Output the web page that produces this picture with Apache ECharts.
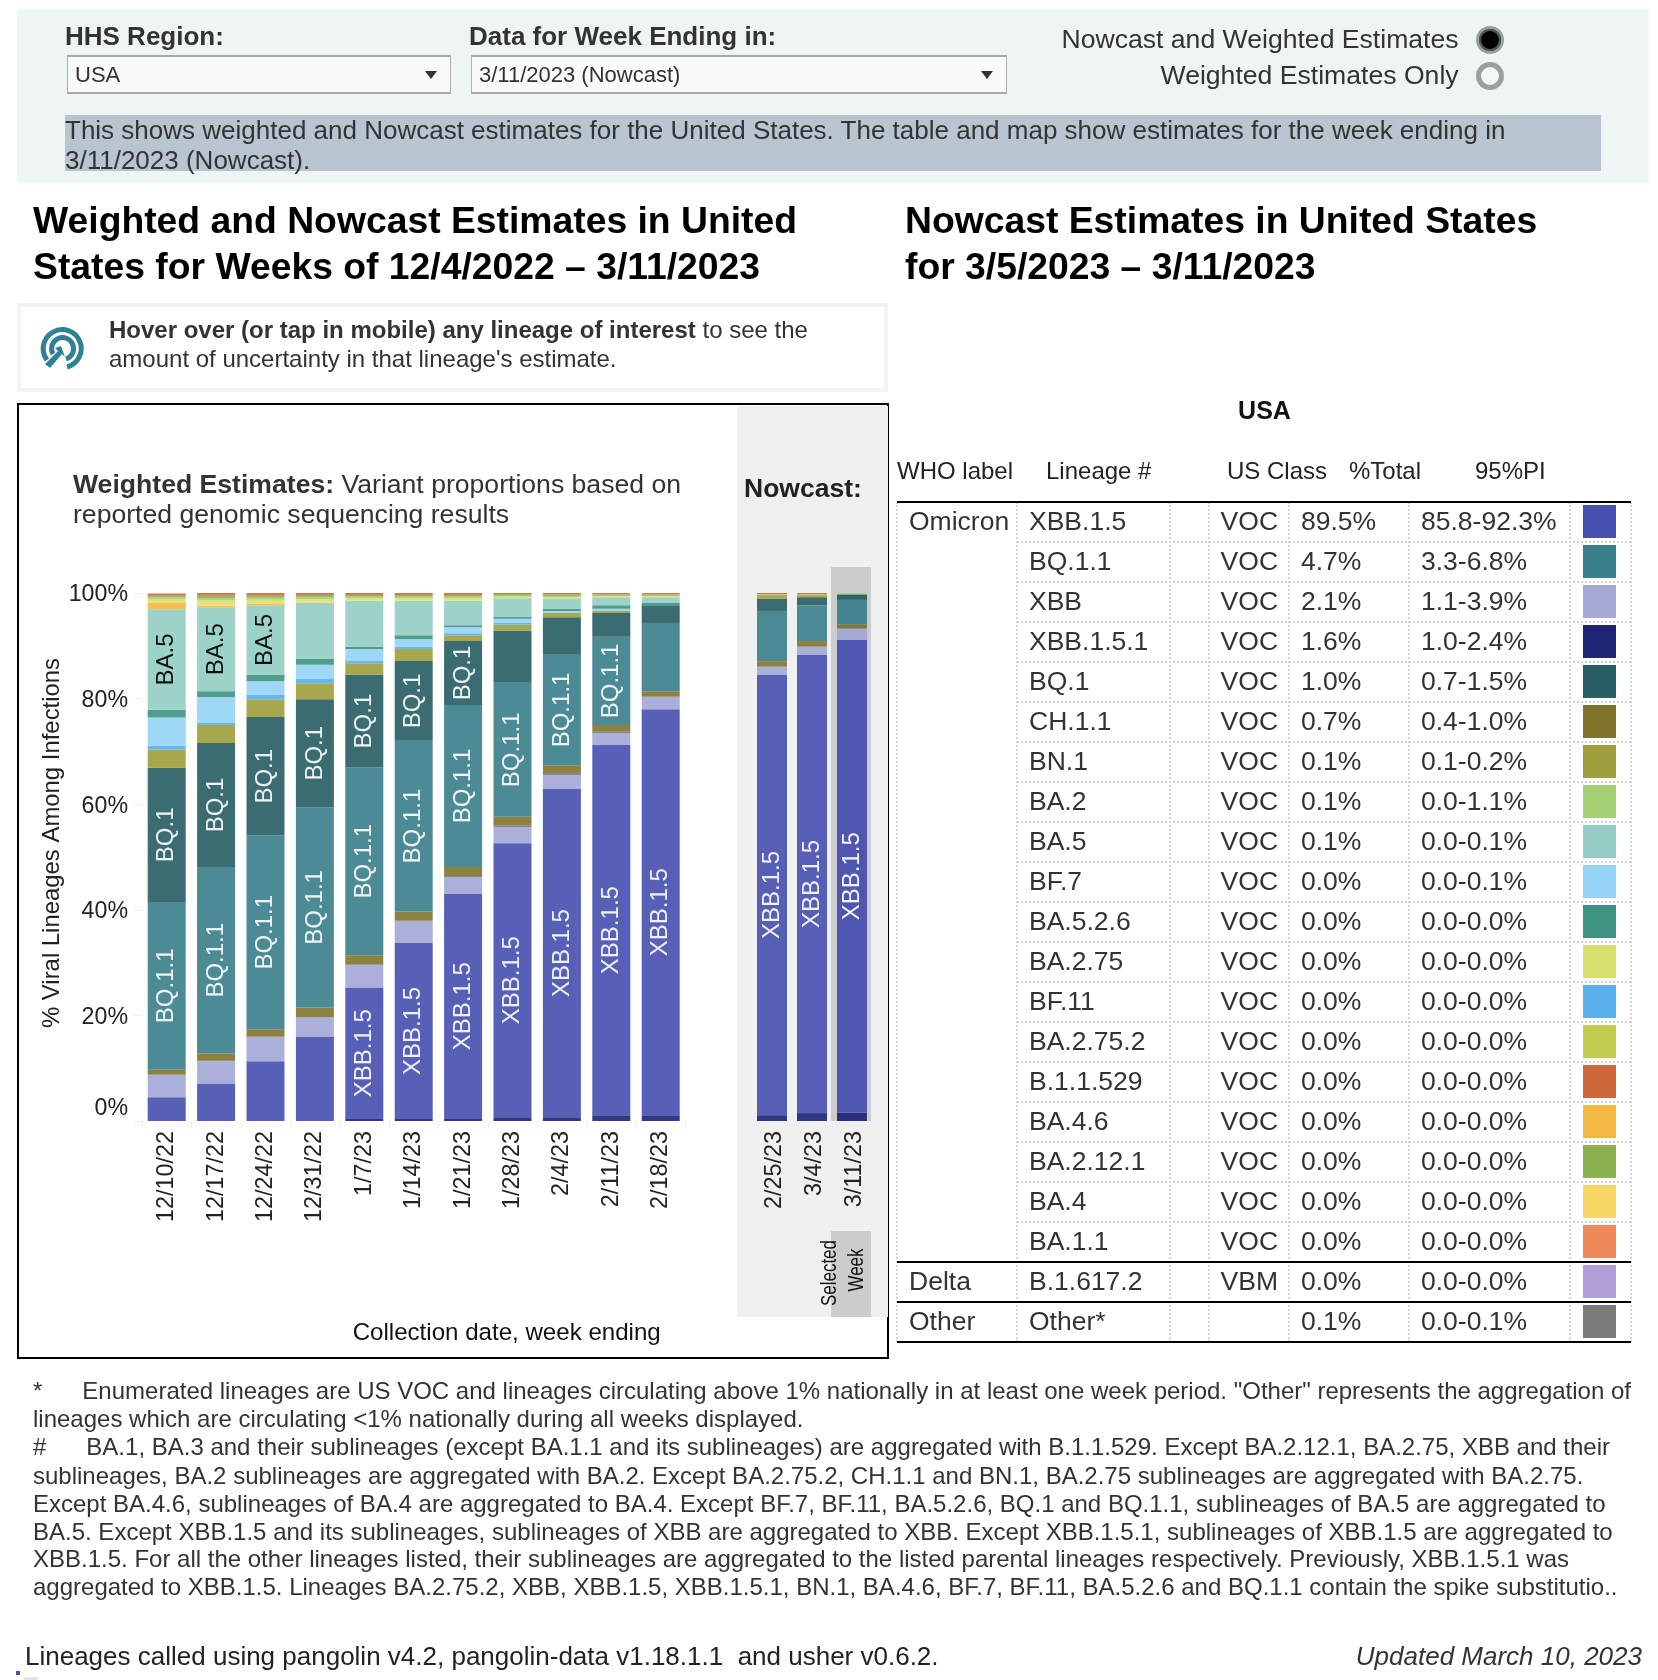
<!DOCTYPE html>
<html><head><meta charset="utf-8">
<script src="https://cdn.jsdelivr.net/npm/echarts@6/dist/echarts.min.js"></script>
<style>
html,body{margin:0;padding:0;background:#fff;font-family:"Liberation Sans",Arial,sans-serif;overflow:hidden}
#page{position:relative;width:1658px;height:1680px;overflow:hidden}
.r{position:absolute;box-sizing:border-box}
.t{position:absolute;white-space:pre;color:#333}
#chart{position:absolute;left:0;top:0;width:1658px;height:1680px}
</style></head><body><div id="page"><div id="under"></div><div id="chart"></div><div id="over"></div></div>
<script>
// ---------- chart data (percent of viral lineages, week by week) ----------
const weightedWeeks = ['12/10/22','12/17/22','12/24/22','12/31/22','1/7/23','1/14/23','1/21/23','1/28/23','2/4/23','2/11/23','2/18/23'];
const nowcastWeeks = ['2/25/23','3/4/23','3/11/23'];
const XBB151 = [0,0,0,0,.4,.4,.4,.7,.7,1.1,1.1,1.1,1.5,1.6];
const XBB15 = [4.5,7.1,11.3,15.9,24.9,33.3,42.7,51.9,62.2,70.1,76.9,83.4,86.8,89.5];
const XBB = [4.2,4.2,4.6,3.7,4.2,4.1,3.1,3.1,2.6,2.3,2.3,1.5,1.5,2.1];
const OTHER = [.1,.1,.1,.1,.2,.2,.2,.3,.4,.2,.1,.1,.1,.1];
const CH11 = [.9,1.4,1.4,1.8,1.7,1.7,1.7,1.6,1.5,1.3,1.0,1.0,1.0,.7];
const BQ11 = [31.8,35.3,36.7,37.9,35.6,32.3,30.7,25.4,20.9,16.7,12.9,9.5,6.8,4.7];
const BQ1 = [25.4,23.5,22.4,20.5,17.5,15.1,12.1,9.9,7.1,4.5,3.4,2.3,1.5,1.0];
const BN1 = [3.4,3.4,3.4,3.0,2.2,2.3,1.1,1.1,.8,.4,0,.7,.4,.1];
const BF11 = [.8,.4,.8,.8,.4,.4,.4,.3,.1,0,0,0,0,0];
const BF7 = [5.3,4.9,2.6,2.7,2.3,1.5,1.1,.8,.3,.4,0,0,0,0];
const BA526 = [1.5,1.1,1.2,1.1,.4,.7,.4,.4,.4,.7,.4,0,0,0];
const BA5 = [19,15.9,13.2,10.6,8.7,6.5,4.6,3.5,1.9,1.5,1.1,0,0,.1];
const BA46 = [1.3,.3,.2,.1,0,0,0,0,0,0,0,0,0,0];
const BA4 = [.3,.5,.4,.2,.1,.1,.1,0,0,0,0,0,0,0];
const BA275 = [.3,.5,.4,.4,.4,.4,.4,.3,.3,.2,.2,.1,.1,0];
const BA2 = [.4,.4,.4,.4,.3,.3,.3,.2,.2,.1,.1,0,0,.1];
const BA2121 = [.3,.5,.4,.4,.3,.3,.3,.3,.3,.2,.2,.1,.1,0];
const B11529 = [.4,.5,.5,.4,.4,.4,.4,.3,.3,.3,.3,.2,.2,0];
const yTicks = ['0%','20%','40%','60%','80%','100%'];

// ---------- table data ----------
const whoLabels = {0:'Omicron',19:'Delta',20:'Other'};
const tableLineages = ['XBB.1.5','BQ.1.1','XBB','XBB.1.5.1','BQ.1','CH.1.1','BN.1','BA.2','BA.5','BF.7','BA.5.2.6','BA.2.75','BF.11','BA.2.75.2','B.1.1.529','BA.4.6','BA.2.12.1','BA.4','BA.1.1','B.1.617.2','Other*'];
const tableClass = ['VOC','VOC','VOC','VOC','VOC','VOC','VOC','VOC','VOC','VOC','VOC','VOC','VOC','VOC','VOC','VOC','VOC','VOC','VOC','VBM',''];
const tableTotal = ['89.5%','4.7%','2.1%','1.6%','1.0%','0.7%','0.1%','0.1%','0.1%','0.0%','0.0%','0.0%','0.0%','0.0%','0.0%','0.0%','0.0%','0.0%','0.0%','0.0%','0.1%'];
const tablePI = ['85.8-92.3%','3.3-6.8%','1.1-3.9%','1.0-2.4%','0.7-1.5%','0.4-1.0%','0.1-0.2%','0.0-1.1%','0.0-0.1%','0.0-0.1%','0.0-0.0%','0.0-0.0%','0.0-0.0%','0.0-0.0%','0.0-0.0%','0.0-0.0%','0.0-0.0%','0.0-0.0%','0.0-0.0%','0.0-0.0%','0.0-0.1%'];
const tableColors = ['#474fb0','#3a7f8c','#a3a8d6','#1f2575','#275d63','#82742d','#9e9e3d','#a5cf73','#93cdc4','#96d4f6','#3f9383','#d7e06c','#5ab0ee','#c4cc50','#cf693c','#f4b942','#8ab04f','#f8d765','#f08a5a','#b09fd6','#7a7a7a'];

// ---------- stacking, bottom to top ----------
const stackNames = ['XBB.1.5.1','XBB.1.5','XBB','Other*','CH.1.1','BQ.1.1','BQ.1','BN.1','BF.11','BF.7','BA.5.2.6','BA.5','BA.4.6','BA.4','BA.2.75','BA.2','BA.2.12.1','B.1.1.529'];
const stackValues = [XBB151,XBB15,XBB,OTHER,CH11,BQ11,BQ1,BN1,BF11,BF7,BA526,BA5,BA46,BA4,BA275,BA2,BA2121,B11529];
const labelled = {'XBB.1.5':[4,5,6,7,8,9,10,11,12,13],'BQ.1.1':[0,1,2,3,4,5,6,7,8,9],'BQ.1':[0,1,2,3,4,5,6],'BA.5':[0,1,2]};

const FONT = '"Liberation Sans",Arial,sans-serif';
const colorOf = n => tableColors[tableLineages.indexOf(n)];
const N = weightedWeeks.length;
const series = [];
stackNames.forEach((name,s)=>{
  const mk = (from,to,axis)=>({
    type:'bar',name,stack:'s'+axis,xAxisIndex:axis,yAxisIndex:axis,
    barWidth:axis===0?38:30,silent:true,animation:false,
    itemStyle:{color:colorOf(name),opacity:.91},
    data:stackValues[s].slice(from,to).map((v,i)=>{
      const idx=from+i, d={value:v};
      if(idx===13) d.itemStyle={opacity:.94};
      if((labelled[name]||[]).includes(idx)) d.label={show:true,position:'inside',rotate:90,formatter:'{a}',fontFamily:FONT,fontSize:24,color:name==='BA.5'?'#000':'#fff'};
      return d;
    })
  });
  series.push(mk(0,N,0),mk(N,N+3,1));
});
const xAxisBase = {type:'category',axisLine:{show:false},axisTick:{show:true,length:8,lineStyle:{color:'#eeeeee',width:1}},
  axisLabel:{rotate:90,margin:10,fontFamily:FONT,fontSize:23.4,color:'#222',interval:0}};
const chart = echarts.init(document.getElementById('chart'),null,{renderer:'canvas',width:1658,height:1680});
chart.setOption({
  backgroundColor:'transparent',animation:false,
  grid:[{left:142,top:593,width:543.4,height:528},{left:752,top:593,width:120,height:528}],
  xAxis:[
    Object.assign({},xAxisBase,{gridIndex:0,data:weightedWeeks,name:'Collection date, week ending',nameLocation:'middle',nameGap:200,
      nameTextStyle:{fontFamily:FONT,fontSize:24.1,color:'#111',padding:[0,0,0,186]}}),
    Object.assign({},xAxisBase,{gridIndex:1,data:nowcastWeeks,axisTick:{show:false},
      axisLabel:Object.assign({},xAxisBase.axisLabel,{formatter:v=>'{a|'+v+'}',rich:{a:{fontFamily:FONT,fontSize:23.4,color:'#222',padding:[5,0,0,0]}}})})
  ],
  yAxis:[
    {type:'value',gridIndex:0,min:0,max:100,interval:20,splitLine:{show:false},axisLine:{show:false},
      axisTick:{show:true,length:8,lineStyle:{color:'#eeeeee'}},
      axisLabel:{margin:14,color:'#222',verticalAlignMinLabel:'bottom',formatter:v=>'{a|'+yTicks[v/20]+'}',
        rich:{a:{fontFamily:FONT,fontSize:23.2,color:'#222',lineHeight:28,padding:[4,0,0,0]}}},
      name:'% Viral Lineages Among Infections',nameLocation:'middle',nameGap:59,
      nameTextStyle:{fontFamily:FONT,fontSize:23.9,color:'#222',padding:[0,0,0,28]}},
    {type:'value',gridIndex:1,min:0,max:100,interval:20,show:false}
  ],
  series
});

// ---------- page furniture ----------
const under=document.getElementById('under'), over=document.getElementById('over');
function box(p,x,y,w,h,css){const d=document.createElement('div');d.className='r';d.style.cssText=`left:${x}px;top:${y}px;width:${w}px;height:${h}px;${css||''}`;p.appendChild(d);return d;}
function txt(x,yc,s,css,html){const d=document.createElement('div');d.className='t';d.style.cssText=`left:${x}px;top:${yc-20}px;line-height:40px;height:40px;${css||''}`;if(html)d.innerHTML=s;else d.textContent=s;over.appendChild(d);return d;}
// header
box(under,17,9,1632,174,'background:#eff5f5');
txt(65,36,'HHS Region:','font-weight:bold;font-size:26px');
txt(469,36,'Data for Week Ending in:','font-weight:bold;font-size:26px');
for(const [x,w,tx,ax,s] of [[67,383.5,75,431,'USA'],[471,535.5,479,987,'3/11/2023 (Nowcast)']]){
  box(under,x,55,w,39,'background:#f8fafb;border:1px solid #b0b0b0;border-bottom:2px solid #a8a8a8;border-top:2px solid #a8a8a8');
  txt(tx,75,s,'font-size:22px;color:#333');
  box(over,ax-6,71,12,8,'background:#333;clip-path:polygon(0 0,100% 0,50% 100%)');
}
txt(0,38.5,'Nowcast and Weighted Estimates','font-size:26.6px;width:1458.6px;text-align:right');
txt(0,74.5,'Weighted Estimates Only','font-size:26.6px;width:1458.6px;text-align:right');
box(over,1476,26,28,28,'border-radius:50%;border:3px solid #9aa0a0;background:#000;box-shadow:inset 0 0 0 2px #555');
box(over,1476,62,28,28,'border-radius:50%;border:5px solid #9aa0a0;background:#f4f7f7');
box(under,65,115,1536,56,'background:#b8c4d0');
txt(65,130,'This shows weighted and Nowcast estimates for the United States. The table and map show estimates for the week ending in','font-size:26px');
txt(65,160,'3/11/2023 (Nowcast).','font-size:26px');
// headings
const H='font-weight:bold;font-size:37.3px;color:#000';
txt(33,220,'Weighted and Nowcast Estimates in United',H);
txt(33,266,'States for Weeks of 12/4/2022 – 3/11/2023',H);
txt(905,220,'Nowcast Estimates in United States',H);
txt(905,266,'for 3/5/2023 – 3/11/2023',H);
// hover box
box(under,17,303,871,89,'border:4px solid #f3f3f3;background:#fff');
const ic=box(over,37,326,48,48,'');
ic.innerHTML='<svg width="48" height="48" viewBox="0 0 48 48"><g fill="none" stroke="#2f8296" stroke-width="5"><path d="M10 34A19 19 0 1 1 30 41"/><path d="M16 28A11 11 0 1 1 29 33"/></g><path d="M24 20L28 31 25 28 13 42 8 38 21 25 18 22Z" fill="#2f8296"/></svg>';
txt(109,330,'<b>Hover over (or tap in mobile) any lineage of interest</b> to see the','font-size:24px',true);
txt(109,359,"amount of uncertainty in that lineage's estimate.",'font-size:24px');
// chart frame
box(under,17,403,872,956,'border:2px solid #000;background:#fff');
box(under,737,406,151,911,'background:#f0f0f0');
box(under,831,567,40,554,'background:#cccccc');
box(under,831,1231,40,86,'background:#cccccc');
txt(73,484,'<b>Weighted Estimates:</b> Variant proportions based on','font-size:26.6px;color:#333;width:607px;overflow:hidden',true);
txt(73,514,'reported genomic sequencing results','font-size:26.6px;color:#333');
txt(744,488,'Nowcast:','font-weight:bold;font-size:26.5px;color:#222');
const SW='font-size:22px;color:#111;transform:translate(-50%,0) rotate(-90deg) scale(.77,1);transform-origin:center';
txt(828.5,1272.7,'Selected',SW);
txt(856,1270,'Week',SW);
// table
txt(0,409.5,'USA','font-weight:bold;font-size:25px;color:#111;width:2529px;text-align:center');
for(const [x,s] of [[897,'WHO label'],[1046,'Lineage #'],[1227,'US Class'],[1349,'%Total'],[1475,'95%PI']]) txt(x,471,s,'font-size:24px;color:#222');
const cols=[897,1017,1170,1209,1289,1409,1570,1631], top0=501.7, rowH=40;
const R=tableLineages.length;
cols.forEach(x=>box(under,x-1,top0,0,R*rowH,'border-left:2px dotted #d4d4d4'));
for(let i=0;i<=R;i++){
  const y=top0+i*rowH;
  if(i===0||i===19||i===20||i===R) box(under,897,y-1,734,2,'background:#000');
  else box(under,1017,y-1,614,0,'border-top:2px dotted #d4d4d4');
}
const TS='font-size:26.5px;color:#333';
tableLineages.forEach((n,i)=>{
  const yc=top0+i*rowH+19;
  if(whoLabels[i]) txt(909,yc,whoLabels[i],TS);
  txt(1029,yc,n,TS); txt(1220.6,yc,tableClass[i],TS); txt(1301,yc,tableTotal[i],TS); txt(1421,yc,tablePI[i],TS);
  box(under,1583,top0+i*rowH+3,33,33,`background:${tableColors[i]};outline:1px solid rgba(255,255,255,.4)`);
});
// footnotes
const noteLines=[
 '*      Enumerated lineages are US VOC and lineages circulating above 1% nationally in at least one week period. "Other" represents the aggregation of',
 'lineages which are circulating <1% nationally during all weeks displayed.',
 '#      BA.1, BA.3 and their sublineages (except BA.1.1 and its sublineages) are aggregated with B.1.1.529. Except BA.2.12.1, BA.2.75, XBB and their',
 'sublineages, BA.2 sublineages are aggregated with BA.2. Except BA.2.75.2, CH.1.1 and BN.1, BA.2.75 sublineages are aggregated with BA.2.75.',
 'Except BA.4.6, sublineages of BA.4 are aggregated to BA.4. Except BF.7, BF.11, BA.5.2.6, BQ.1 and BQ.1.1, sublineages of BA.5 are aggregated to',
 'BA.5. Except XBB.1.5 and its sublineages, sublineages of XBB are aggregated to XBB. Except XBB.1.5.1, sublineages of XBB.1.5 are aggregated to',
 'XBB.1.5. For all the other lineages listed, their sublineages are aggregated to the listed parental lineages respectively. Previously, XBB.1.5.1 was',
 'aggregated to XBB.1.5. Lineages BA.2.75.2, XBB, XBB.1.5, XBB.1.5.1, BN.1, BA.4.6, BF.7, BF.11, BA.5.2.6 and BQ.1.1 contain the spike substitutio..'];
const noteY=[1391,1419,1447,1476,1504,1532,1559,1587];
noteLines.forEach((s,i)=>txt(33,noteY[i],s,'font-size:24px;color:#333'));
txt(25,1656,'Lineages called using pangolin v4.2, pangolin-data v1.18.1.1  and usher v0.6.2.','font-size:26px;color:#222');
txt(0,1656,'Updated March 10, 2023','font-size:26px;font-style:italic;color:#333;width:1642px;text-align:right');
box(over,16,1671,4,4,'background:#4a52b0');
box(over,24,1677,14,3,'background:#e4e4e4');
</script></body></html>
